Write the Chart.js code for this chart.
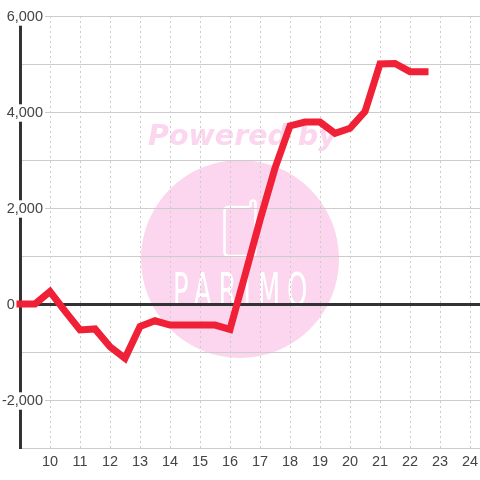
<!DOCTYPE html>
<html>
<head>
<meta charset="utf-8">
<script src="https://cdn.jsdelivr.net/npm/chart.js@4"></script>
<style>
body { margin: 0; background: #fff; }
canvas { display: block; }
</style>
</head>
<body>
<canvas id="chart" width="480" height="480"></canvas>
<script>
const hours = [9, 9.5, 10, 10.5, 11, 11.5, 12, 12.5, 13, 13.5, 14, 14.5, 15, 15.5, 16, 16.5, 17, 17.5, 18, 18.5, 19, 19.5, 20, 20.5, 21, 21.5, 22, 22.5];
const profit = [0, 0, 260, -150, -540, -520, -890, -1130, -470, -350, -440, -440, -440, -440, -530, 600, 1750, 2830, 3710, 3790, 3790, 3555, 3660, 4010, 5000, 5010, 4840, 4840];
const hourTicks = [10, 11, 12, 13, 14, 15, 16, 17, 18, 19, 20, 21, 22, 23, 24];
const profitTicks = [6000, 5000, 4000, 3000, 2000, 1000, 0, -1000, -2000, -3000];
const labelledProfit = [6000, 4000, 2000, 0, -2000];

const pink = '#fcd5ee';

// Watermark sits behind the grid
const watermark = {
    id: 'watermark',
    beforeDraw(chart) {
        const ctx = chart.ctx;
        ctx.save();
        ctx.fillStyle = '#fff';
        ctx.fillRect(0, 0, 480, 480);

        ctx.fillStyle = pink;
        ctx.beginPath();
        ctx.arc(240, 259, 99, 0, Math.PI * 2);
        ctx.fill();

        ctx.font = 'italic bold 28.5px "DejaVu Sans"';
        ctx.textAlign = 'left';
        ctx.textBaseline = 'alphabetic';
        ctx.fillText('Powered by', 148, 145);

        ctx.strokeStyle = '#fff';
        ctx.lineWidth = 2.5;
        ctx.beginPath();
        ctx.moveTo(250, 207);
        ctx.lineTo(229, 207);
        ctx.quadraticCurveTo(224.5, 207, 224.5, 211);
        ctx.lineTo(224.5, 252);
        ctx.quadraticCurveTo(224.5, 256, 229, 256);
        ctx.lineTo(251, 256);
        ctx.quadraticCurveTo(255.5, 256, 255.5, 252);
        ctx.lineTo(255.5, 203);
        ctx.arc(253, 203, 2.5, 0, Math.PI, true);
        ctx.lineTo(250.5, 207);
        ctx.stroke();

        ctx.fillStyle = '#fff';
        ctx.translate(173, 306);
        ctx.scale(0.72, 1.26);
        ctx.font = '36px "DejaVu Sans"';
        ctx.letterSpacing = '9.5px';
        ctx.fillText('PARIMO', 0, 0);
        ctx.restore();
    }
};

new Chart(document.getElementById('chart').getContext('2d'), {
    type: 'line',
    data: {
        datasets: [{
            data: hours.map((h, i) => ({ x: h, y: profit[i] })),
            borderColor: '#f02036',
            borderWidth: 7,
            borderCapStyle: 'square',
            pointRadius: 0,
            tension: 0,
            clip: false
        }]
    },
    options: {
        responsive: false,
        animation: false,
        parsing: false,
        layout: { autoPadding: false, padding: { top: 16 } },
        plugins: { legend: { display: false }, tooltip: { enabled: false } },
        scales: {
            x: {
                type: 'linear',
                min: 9,
                max: 24.333,
                afterBuildTicks: (scale) => { scale.ticks = hourTicks.map(value => ({ value })); },
                afterFit: (scale) => {
                    scale.height = 32;
                    // keep the plot running to the canvas edge
                    scale.paddingLeft = 0;
                    scale.paddingRight = 0;
                },
                grid: { color: '#ccc', lineWidth: 1, drawTicks: false },
                border: { display: false, dash: [2, 3] },
                ticks: {
                    autoSkip: false,
                    maxRotation: 0,
                    padding: 5,
                    color: '#444',
                    font: { family: '"Liberation Sans"', size: 14.5 },
                    callback: (value) => String(value)
                }
            },
            y: {
                type: 'linear',
                min: -3000,
                max: 6000,
                afterBuildTicks: (scale) => { scale.ticks = profitTicks.map(value => ({ value })); },
                afterFit: (scale) => {
                    scale.width = 20;
                    // labels overlap the plot here, so they must not be clipped to the axis box
                    scale._computeLabelArea = () => undefined;
                },
                grid: {
                    drawTicks: false,
                    color: (c) => c.tick && c.tick.value === 0 ? '#333' : '#ccc',
                    lineWidth: (c) => c.tick && c.tick.value === 0 ? 3 : 1
                },
                border: { display: true, color: '#333', width: 3 },
                ticks: {
                    autoSkip: false,
                    padding: -23,
                    labelOffset: 1,
                    color: '#444',
                    font: { family: '"Liberation Sans"', size: 14.5 },
                    showLabelBackdrop: true,
                    backdropPadding: { x: 2, y: 0 },
                    backdropColor: (c) => c.tick && c.tick.value !== 0 && labelledProfit.includes(c.tick.value) ? '#fff' : 'rgba(0,0,0,0)',
                    // the zero label sits further left than the others
                    callback: (value) => {
                        if (value === 0) return '0' + ' '.repeat(7);
                        return labelledProfit.includes(value) ? value.toLocaleString('en-US') : '';
                    }
                }
            }
        }
    },
    plugins: [watermark]
});
</script>
</body>
</html>
